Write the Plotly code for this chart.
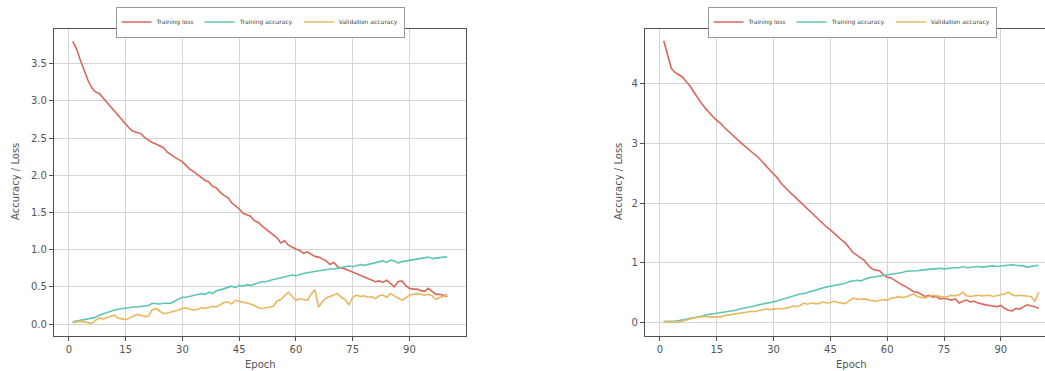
import plotly.graph_objects as go

epochs = list(range(1, 101))

loss_a = [3.80, 3.70, 3.55, 3.40, 3.28, 3.18, 3.12, 3.10, 3.04, 2.98,
          2.92, 2.87, 2.80, 2.75, 2.68, 2.63, 2.59, 2.57, 2.56, 2.51,
          2.47, 2.44, 2.42, 2.40, 2.37, 2.31, 2.27, 2.24, 2.21, 2.18,
          2.13, 2.08, 2.05, 2.01, 1.98, 1.93, 1.91, 1.85, 1.83, 1.77,
          1.73, 1.70, 1.63, 1.59, 1.55, 1.49, 1.47, 1.45, 1.39, 1.37,
          1.32, 1.28, 1.24, 1.20, 1.16, 1.09, 1.12, 1.06, 1.03, 1.01,
          0.99, 0.95, 0.97, 0.94, 0.91, 0.90, 0.87, 0.85, 0.80, 0.83,
          0.77, 0.76, 0.74, 0.72, 0.70, 0.67, 0.66, 0.64, 0.61, 0.60,
          0.57, 0.58, 0.56, 0.59, 0.54, 0.50, 0.57, 0.58, 0.52, 0.48,
          0.47, 0.47, 0.45, 0.44, 0.48, 0.44, 0.40, 0.40, 0.38, 0.37]

train_acc_a = [0.03, 0.04, 0.06, 0.06, 0.07, 0.08, 0.09, 0.12, 0.14, 0.16,
               0.18, 0.19, 0.20, 0.21, 0.22, 0.22, 0.23, 0.23, 0.24, 0.24,
               0.25, 0.28, 0.27, 0.27, 0.28, 0.28, 0.28, 0.31, 0.34, 0.36,
               0.36, 0.37, 0.38, 0.39, 0.41, 0.40, 0.43, 0.41, 0.45, 0.46,
               0.48, 0.50, 0.51, 0.49, 0.52, 0.51, 0.53, 0.52, 0.54, 0.55,
               0.57, 0.57, 0.59, 0.60, 0.61, 0.62, 0.64, 0.65, 0.66, 0.65,
               0.67, 0.68, 0.69, 0.70, 0.70, 0.71, 0.72, 0.73, 0.74, 0.74,
               0.75, 0.76, 0.77, 0.78, 0.77, 0.78, 0.80, 0.79, 0.80, 0.81,
               0.82, 0.84, 0.85, 0.83, 0.86, 0.85, 0.82, 0.84, 0.85, 0.86,
               0.87, 0.87, 0.88, 0.89, 0.90, 0.88, 0.89, 0.89, 0.90, 0.90]

val_acc_a = [0.02, 0.03, 0.04, 0.03, 0.02, 0.01, 0.05, 0.08, 0.07, 0.09,
             0.11, 0.12, 0.08, 0.07, 0.06, 0.08, 0.11, 0.13, 0.12, 0.10,
             0.11, 0.19, 0.21, 0.17, 0.14, 0.15, 0.16, 0.17, 0.19, 0.21,
             0.22, 0.20, 0.19, 0.20, 0.22, 0.21, 0.23, 0.24, 0.23, 0.26,
             0.29, 0.30, 0.27, 0.32, 0.31, 0.29, 0.28, 0.27, 0.25, 0.22,
             0.21, 0.22, 0.23, 0.24, 0.31, 0.33, 0.38, 0.43, 0.37, 0.32,
             0.34, 0.33, 0.32, 0.40, 0.46, 0.23, 0.30, 0.35, 0.37, 0.39,
             0.41, 0.36, 0.33, 0.26, 0.36, 0.39, 0.37, 0.38, 0.36, 0.37,
             0.34, 0.38, 0.39, 0.36, 0.41, 0.38, 0.35, 0.32, 0.35, 0.39,
             0.40, 0.41, 0.40, 0.39, 0.40, 0.38, 0.33, 0.36, 0.37, 0.41]

loss_b = [4.71, 4.50, 4.25, 4.18, 4.14, 4.10, 4.02, 3.95, 3.85, 3.75,
          3.66, 3.58, 3.50, 3.44, 3.38, 3.33, 3.26, 3.20, 3.14, 3.08,
          3.03, 2.97, 2.92, 2.86, 2.81, 2.76, 2.68, 2.62, 2.55, 2.48,
          2.42, 2.33, 2.26, 2.20, 2.14, 2.08, 2.01, 1.96, 1.89, 1.84,
          1.77, 1.72, 1.65, 1.60, 1.55, 1.49, 1.43, 1.38, 1.33, 1.24,
          1.17, 1.13, 1.08, 1.04, 0.96, 0.90, 0.88, 0.87, 0.80, 0.76,
          0.75, 0.71, 0.66, 0.63, 0.60, 0.56, 0.52, 0.51, 0.47, 0.44,
          0.46, 0.43, 0.44, 0.40, 0.41, 0.39, 0.38, 0.40, 0.33, 0.36,
          0.38, 0.35, 0.36, 0.33, 0.31, 0.30, 0.29, 0.28, 0.27, 0.29,
          0.24, 0.21, 0.20, 0.24, 0.23, 0.27, 0.30, 0.28, 0.27, 0.24]

train_acc_b = [0.02, 0.02, 0.03, 0.03, 0.04, 0.05, 0.06, 0.07, 0.09, 0.10,
               0.11, 0.13, 0.14, 0.14, 0.15, 0.16, 0.17, 0.19, 0.20, 0.21,
               0.23, 0.24, 0.25, 0.26, 0.28, 0.30, 0.31, 0.32, 0.34, 0.35,
               0.37, 0.39, 0.40, 0.42, 0.44, 0.46, 0.48, 0.49, 0.51, 0.52,
               0.54, 0.56, 0.58, 0.60, 0.61, 0.62, 0.63, 0.64, 0.66, 0.69,
               0.70, 0.71, 0.70, 0.73, 0.75, 0.76, 0.77, 0.77, 0.78, 0.79,
               0.80, 0.82, 0.83, 0.84, 0.86, 0.86, 0.87, 0.87, 0.88, 0.89,
               0.89, 0.90, 0.90, 0.91, 0.90, 0.91, 0.91, 0.92, 0.92, 0.94,
               0.92, 0.93, 0.93, 0.94, 0.93, 0.94, 0.94, 0.95, 0.94, 0.95,
               0.96, 0.96, 0.97, 0.96, 0.96, 0.95, 0.93, 0.94, 0.94, 0.96]

val_acc_b = [0.02, 0.02, 0.01, 0.01, 0.01, 0.03, 0.05, 0.07, 0.08, 0.09,
             0.10, 0.11, 0.10, 0.10, 0.11, 0.10, 0.12, 0.13, 0.14, 0.16,
             0.16, 0.17, 0.18, 0.19, 0.19, 0.20, 0.21, 0.23, 0.22, 0.23,
             0.24, 0.23, 0.24, 0.25, 0.28, 0.27, 0.29, 0.33, 0.31, 0.33,
             0.32, 0.32, 0.35, 0.33, 0.34, 0.36, 0.34, 0.33, 0.32, 0.37,
             0.41, 0.40, 0.39, 0.40, 0.38, 0.37, 0.36, 0.38, 0.39, 0.38,
             0.41, 0.42, 0.44, 0.42, 0.43, 0.46, 0.48, 0.44, 0.43, 0.41,
             0.44, 0.46, 0.45, 0.44, 0.43, 0.44, 0.46, 0.45, 0.47, 0.51,
             0.45, 0.44, 0.45, 0.46, 0.45, 0.45, 0.46, 0.44, 0.46, 0.47,
             0.48, 0.51, 0.47, 0.45, 0.46, 0.45, 0.44, 0.44, 0.36, 0.51]

series_names = ["Training loss", "Training accuracy", "Validation accuracy"]
x_ticks = [0, 15, 30, 45, 60, 75, 90]
y_ticks_a = [0.0, 0.5, 1.0, 1.5, 2.0, 2.5, 3.0, 3.5]
y_ticks_b = [0, 1, 2, 3, 4]

colors = ["#d8685c", "#5ec6b4", "#e8b85e"]
W, H = 1045, 371

def px_x(p):
    return p / W

def px_y(p):
    return 1 - p / H

fig = go.Figure()
panels = [
    ("x", "y", "legend", [loss_a, train_acc_a, val_acc_a]),
    ("x2", "y2", "legend2", [loss_b, train_acc_b, val_acc_b]),
]
for xa, ya, lg, data in panels:
    for name, vals, c in zip(series_names, data, colors):
        fig.add_trace(go.Scatter(
            x=epochs, y=vals, mode="lines", name=name,
            line=dict(color=c, width=1.6), xaxis=xa, yaxis=ya, legend=lg,
        ))

tick_font = dict(family="DejaVu Sans", size=10, color="#555555")
common_x = dict(
    tickvals=x_ticks, showgrid=True, gridcolor="#d4d4d4", gridwidth=1,
    zeroline=False, showline=True, linecolor="#505050", linewidth=1.2,
    ticks="outside", ticklen=4, tickcolor="#505050", tickfont=tick_font,
    mirror=True,
)
common_y = dict(
    showgrid=True, gridcolor="#d4d4d4", gridwidth=1, zeroline=False,
    showline=True, linecolor="#505050", linewidth=1.2, ticks="outside",
    ticklen=4, tickcolor="#505050", tickfont=tick_font,
)

ytop, ybot = px_y(28.7), px_y(336)
legend_common = dict(
    orientation="h", xanchor="center", yanchor="middle",
    font=dict(family="DejaVu Sans", size=6, color="#444444"),
    bgcolor="white", bordercolor="#999999", borderwidth=1,
    itemwidth=30, tracegroupgap=0,
)

fig.update_layout(
    width=W, height=H, margin=dict(l=0, r=0, t=0, b=0),
    paper_bgcolor="white", plot_bgcolor="white",
    xaxis=dict(domain=[px_x(54), px_x(466)], range=[-3.95, 104.95],
               anchor="y", **common_x),
    yaxis=dict(domain=[ybot, ytop], range=[-0.16, 3.97], tickvals=y_ticks_a,
               tickformat=".1f", anchor="x", mirror=True, **common_y),
    xaxis2=dict(domain=[px_x(645), 1.0], range=[-3.95, 101.67],
                anchor="y2", **common_x),
    yaxis2=dict(domain=[ybot, ytop], range=[-0.22, 4.91], tickvals=y_ticks_b,
                anchor="x2", **common_y),
    legend=dict(x=px_x(260), y=px_y(22), **legend_common),
    legend2=dict(x=px_x(852), y=px_y(22), **legend_common),
    showlegend=True,
)

title_font = dict(family="DejaVu Sans", size=10, color="#555555")
for xc in (260, 851):
    fig.add_annotation(text="Epoch", x=px_x(xc), y=px_y(364), xref="paper",
                       yref="paper", showarrow=False, font=title_font,
                       xanchor="center", yanchor="middle")
for xc in (15, 618):
    fig.add_annotation(text="Accuracy / Loss", x=px_x(xc), y=px_y(182),
                       xref="paper", yref="paper", showarrow=False,
                       font=title_font, textangle=-90,
                       xanchor="center", yanchor="middle")

fig.write_html(
    "out.html",
    config={"displayModeBar": False},
    post_script="document.body.style.margin='0';"
                "document.body.style.overflow='hidden';",
)
